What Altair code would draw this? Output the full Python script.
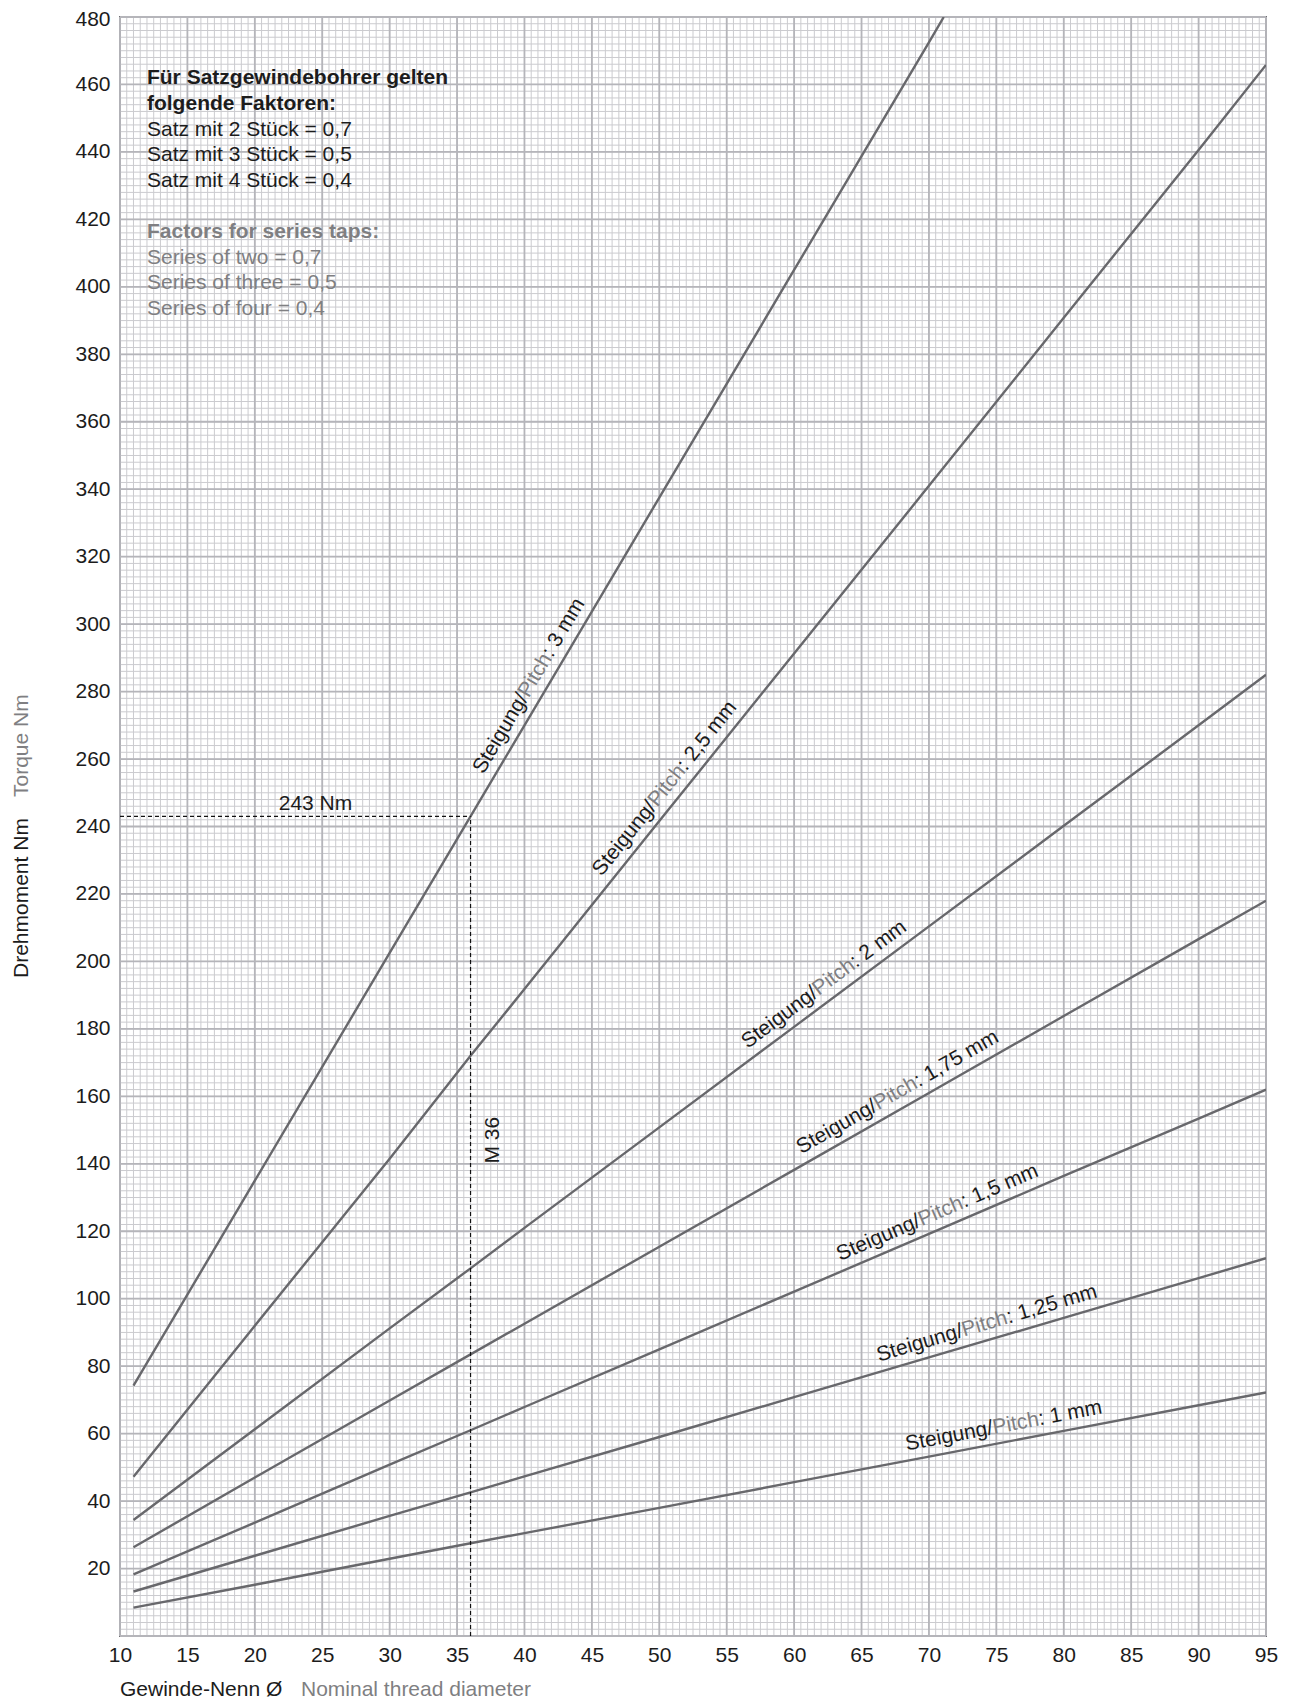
import altair as alt
import pandas as pd
import numpy as np

# ---------------- values ----------------
diam = [11, 20, 30, 36, 40, 50, 60, 70, 80, 90, 95]
t_1_00 = [8.4, 15.2, 22.9, 27.5, 30.5, 38.0, 45.6, 53.2, 60.8, 68.4, 72.2]
t_1_25 = [13.2, 23.8, 35.6, 42.6, 47.3, 59.0, 70.8, 82.6, 94.3, 106.1, 112.0]
t_1_50 = [18.3, 33.6, 50.8, 61.0, 67.9, 85.0, 102.1, 119.2, 136.4, 153.4, 162.0]
t_1_75 = [26.3, 47.0, 69.8, 83.5, 92.6, 115.4, 138.2, 161.0, 183.8, 206.6, 218.0]
t_2_00 = [34.4, 61.3, 91.2, 109.0, 121.0, 150.8, 180.6, 210.4, 240.2, 270.0, 285.0]
t_2_50 = [47.2, 92.0, 141.5, 172.0, 191.8, 241.6, 291.3, 341.0, 390.8, 440.6, 465.8]
diam_3 = [11, 20, 30, 36, 40, 50, 60, 70, 71.1]
t_3_00 = [74.2, 135.0, 202.5, 243.0, 270.0, 337.5, 405.0, 472.5, 480.0]

pitch_names = ["1 mm", "1,25 mm", "1,5 mm", "1,75 mm", "2 mm", "2,5 mm", "3 mm"]
label_start = [68.5, 66.5, 63.7, 60.9, 57.0, 46.3, 37.6]   # diameter where each label begins

x_ticks = list(range(10, 96, 5))
y_ticks = list(range(20, 481, 20))

example_d = 36
example_t = 243
example_label = "243 Nm"
example_size = "M 36"

notes_de_bold = ["Für Satzgewindebohrer gelten", "folgende Faktoren:"]
notes_de = ["Satz mit 2 Stück = 0,7", "Satz mit 3 Stück = 0,5", "Satz mit 4 Stück = 0,4"]
notes_en_bold = ["Factors for series taps:"]
notes_en = ["Series of two = 0,7", "Series of three = 0,5", "Series of four = 0,4"]

x_title_de, x_title_en = "Gewinde-Nenn Ø", "Nominal thread diameter"
y_title_de, y_title_en = "Drehmoment Nm", "Torque Nm"

# ---------------- layout / style ----------------
W, H = 1146, 1619
XD, YD = [10, 95], [0, 480]
PX_X = W / (XD[1] - XD[0])
PX_Y = H / (YD[1] - YD[0])
FONT = "Liberation Sans"
FS = 21
BLACK = "#1c1c1c"
GRAY = "#7f7f82"
CURVE = "#68686c"
LH = 25.6

xs = alt.Scale(domain=XD, nice=False, zero=False)
ys = alt.Scale(domain=YD, nice=False, zero=False)
x_axis = alt.Axis(values=x_ticks, grid=False, ticks=False, domain=False, labelFlush=False,
                  labelPadding=8, labelFontSize=FS, labelFont=FONT, labelColor=BLACK, title=None)
y_axis = alt.Axis(values=y_ticks, grid=False, ticks=False, domain=False, labelFlush=False,
                  labelPadding=10, labelFontSize=FS, labelFont=FONT, labelColor=BLACK, title=None,
                  labelOffset={"condition": {"test": "datum.value == 480", "value": 2}, "value": 0})


def X(field):
    return alt.X(field, type="quantitative", scale=xs, axis=x_axis, title=None)


def Y(field):
    return alt.Y(field, type="quantitative", scale=ys, axis=y_axis, title=None)


# grid
minor_x = pd.DataFrame({"d": np.arange(10, 95.001, 0.5)})
minor_y = pd.DataFrame({"t": np.arange(0, 480.001, 2)})
major_x = pd.DataFrame({"d": x_ticks})
major_y = pd.DataFrame({"t": [0] + y_ticks})

g1 = alt.Chart(minor_x).mark_rule(color="#cbcbcf", strokeWidth=1).encode(x=X("d"))
g2 = alt.Chart(minor_y).mark_rule(color="#cbcbcf", strokeWidth=1).encode(y=Y("t"))
g3 = alt.Chart(major_x).mark_rule(color="#b5b5ba", strokeWidth=1.8).encode(x=X("d"))
g4 = alt.Chart(major_y).mark_rule(color="#b5b5ba", strokeWidth=1.8).encode(y=Y("t"))

# curves
series = [t_1_00, t_1_25, t_1_50, t_1_75, t_2_00, t_2_50]
rows = []
for name, vals in zip(pitch_names[:-1], series):
    for d, t in zip(diam, vals):
        rows.append({"pitch": name, "d": d, "t": t})
for d, t in zip(diam_3, t_3_00):
    rows.append({"pitch": pitch_names[-1], "d": d, "t": t})
curves_df = pd.DataFrame(rows)

curves = alt.Chart(curves_df).mark_line(color=CURVE, strokeWidth=2.4, clip=True).encode(
    x=X("d"), y=Y("t"), detail="pitch:N"
)

# example dashed lines
hline = alt.Chart(pd.DataFrame({"d0": [XD[0]], "d1": [example_d], "t": [example_t]})).mark_rule(
    color="#111111", strokeWidth=1.2, strokeDash=[4, 3]
).encode(x=X("d0"), x2="d1:Q", y=Y("t"))
vline = alt.Chart(pd.DataFrame({"d": [example_d], "t0": [YD[0]], "t1": [example_t]})).mark_rule(
    color="#111111", strokeWidth=1.2, strokeDash=[4, 3]
).encode(x=X("d"), y=Y("t0"), y2="t1:Q")

ex_txt = alt.Chart(pd.DataFrame({"d": [24.5], "t": [example_t], "s": [example_label]})).mark_text(
    font=FONT, fontSize=FS, color=BLACK, align="center", baseline="alphabetic", dy=-6
).encode(x=X("d"), y=Y("t"), text="s:N")
m_txt = alt.Chart(pd.DataFrame({"d": [38.1], "t": [147], "s": [example_size]})).mark_text(
    font=FONT, fontSize=FS, color=BLACK, align="center", baseline="alphabetic", angle=270
).encode(x=X("d"), y=Y("t"), text="s:N")

# pitch labels
all_x = [diam] * 6 + [diam_3]
all_t = series + [t_3_00]
lab_rows = []
for name, x0, xv, tv in zip(pitch_names, label_start, all_x, all_t):
    t0 = float(np.interp(x0, xv, tv))
    s = (np.interp(x0 + 1, xv, tv) - np.interp(x0 - 1, xv, tv)) / 2.0
    ang = 360 - np.degrees(np.arctan(s * PX_Y / PX_X))
    lab_rows.append({"d": x0, "t": t0, "angle": ang, "rest": ": " + name})
lab_df = pd.DataFrame(lab_rows)

w_steig = 4.225 * FS
w_pitch = 2.223 * FS


def pitch_part(text_enc, color, dx):
    return alt.Chart(lab_df).mark_text(
        font=FONT, fontSize=FS, color=color, align="left", baseline="alphabetic", dx=dx, dy=-10
    ).encode(x=X("d"), y=Y("t"), angle=alt.Angle("angle:Q", scale=None), text=text_enc)


p1 = pitch_part(alt.value("Steigung/"), BLACK, 0)
p2 = pitch_part(alt.value("Pitch"), GRAY, w_steig)
p3 = pitch_part(alt.Text("rest:N"), BLACK, w_steig + w_pitch)


# notes block
def note(lines, t, color, weight):
    return alt.Chart(pd.DataFrame({"d": [12], "t": [t]})).mark_text(
        font=FONT, fontSize=FS, color=color, fontWeight=weight, align="left",
        baseline="alphabetic", lineHeight=LH
    ).encode(x=X("d"), y=Y("t"), text=alt.value(lines))


top_t = 460
n1 = note(notes_de_bold, top_t, BLACK, "bold")
n2 = note(notes_de, top_t - 2 * LH / PX_Y, BLACK, "normal")
n3 = note(notes_en_bold, top_t - 6 * LH / PX_Y, GRAY, "bold")
n4 = note(notes_en, top_t - 7 * LH / PX_Y, GRAY, "normal")

# axis titles
one = pd.DataFrame({"a": [0]})


def title_part(s, color, x, y, angle=0, dx=0):
    kw = dict(font=FONT, fontSize=FS, color=color, align="left", baseline="alphabetic", dx=dx)
    if angle:
        kw["angle"] = angle
    return alt.Chart(one).mark_text(**kw).encode(x=alt.value(x), y=alt.value(y), text=alt.value(s))


xt1 = title_part(x_title_de, BLACK, 0, H + 59.5)
xt2 = title_part(x_title_en, GRAY, 181, H + 59.5)
yt1 = title_part(y_title_de, BLACK, -92, 961, angle=270)
yt2 = title_part(y_title_en, GRAY, -92, 961, angle=270, dx=181)

chart = alt.layer(
    g1, g2, g3, g4, curves, hline, vline, ex_txt, m_txt, p1, p2, p3, n1, n2, n3, n4, xt1, xt2, yt1, yt2
).properties(
    width=W, height=H,
    autosize=alt.AutoSizeParams(type="none"),
    padding={"left": 112, "top": 9, "right": 15, "bottom": 70},
).configure_view(stroke="#6e6e72", strokeWidth=2)

chart.save("out.html", embed_options={"renderer": "svg", "actions": False})
